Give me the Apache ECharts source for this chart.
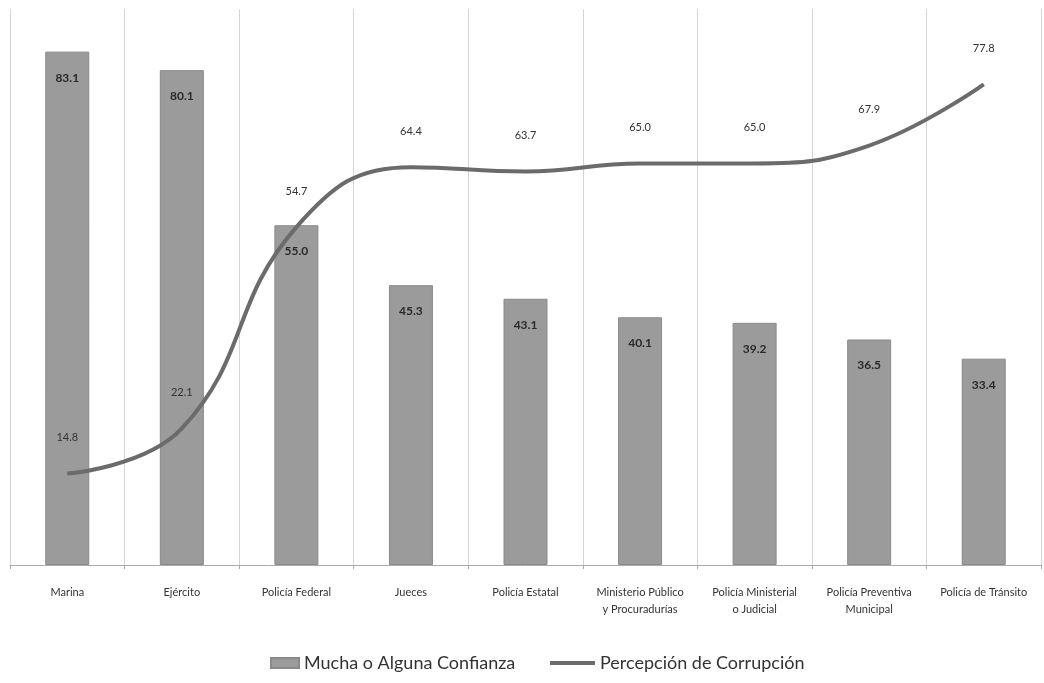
<!DOCTYPE html>
<html>
<head>
<meta charset="utf-8">
<script src="https://cdn.jsdelivr.net/npm/echarts@6/dist/echarts.min.js"></script>
<style>html,body{margin:0;padding:0;background:#fff;}#c{width:1044px;height:683px;}</style>
</head>
<body>
<div id="c"></div>
<script>
const categories = ["Marina", "Ejército", "Policía Federal", "Jueces", "Policía Estatal", "Ministerio Público\ny Procuradurías", "Policía Ministerial\no Judicial", "Policía Preventiva\nMunicipal", "Policía de Tránsito"];
const confianza = [83.1, 80.1, 55.0, 45.3, 43.1, 40.1, 39.2, 36.5, 33.4];
const corrupcion = [14.8, 22.1, 54.7, 64.4, 63.7, 65.0, 65.0, 67.9, 77.8];
const seriesNames = ["Mucha o Alguna Confianza", "Percepción de Corrupción"];

const chart = echarts.init(document.getElementById('c'));
const FONT = 'Lato, "Noto Sans", sans-serif';
chart.setOption({
  backgroundColor: '#ffffff',
  animation: false,
  textStyle: { fontFamily: FONT },
  grid: { left: 10, right: 3, top: 9, bottom: 118 },
  legend: [
    { data: [{ name: seriesNames[0], icon: 'rect' }], left: 265, top: 649, itemWidth: 28, itemHeight: 10,
      textStyle: { fontSize: 18, color: '#333', fontFamily: FONT } },
    { data: [{ name: seriesNames[1], icon: 'rect' }], left: 545, top: 649, itemWidth: 45, itemHeight: 4,
      textStyle: { fontSize: 18, color: '#333', fontFamily: FONT } }
  ],
  xAxis: {
    type: 'category',
    data: categories,
    boundaryGap: true,
    axisLine: { lineStyle: { color: '#aaa', width: 1 } },
    axisTick: { show: true, length: 4, lineStyle: { color: '#aaa' } },
    splitLine: { show: true, lineStyle: { color: '#d4d4d4', width: 1 } },
    axisLabel: { interval: 0, fontSize: 11, color: '#333', margin: 19, lineHeight: 17, fontFamily: FONT }
  },
  yAxis: {
    type: 'value', min: 0, max: 90, show: false,
    splitLine: { show: false }
  },
  series: [
    {
      name: seriesNames[0], type: 'bar', data: confianza, barWidth: 44,
      itemStyle: { color: '#9b9b9b', borderColor: '#8a8a8a', borderWidth: 1 },
      label: { show: true, position: 'insideTop', distance: 20, fontSize: 12, fontWeight: 'bold', color: '#2a2a2a',
        formatter: p => p.value.toFixed(1) },
      z: 2
    },
    {
      name: seriesNames[1], type: 'line', data: corrupcion, smooth: 0.45,
      symbol: 'circle', symbolSize: 1, showSymbol: true,
      lineStyle: { color: '#6b6b6b', width: 4 },
      itemStyle: { color: '#6b6b6b' },
      label: { show: true, position: 'top', distance: 30, fontSize: 11, color: '#333',
        formatter: p => p.value.toFixed(1) },
      z: 3
    }
  ]
});
</script>
</body>
</html>
